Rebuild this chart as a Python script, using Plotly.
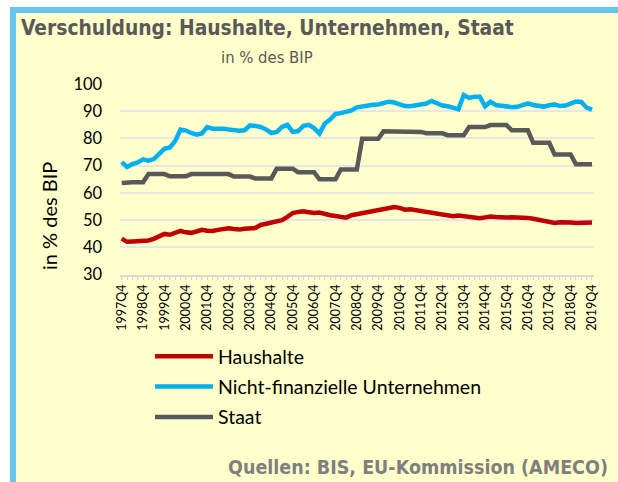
import plotly.graph_objects as go

W, H = 618, 482

# ---- data (quarterly, 1997Q4 .. 2019Q4) ----
quarters = [f"{y}Q{q}" for y in range(1997, 2020) for q in range(1, 5)]
quarters = quarters[quarters.index("1997Q4"):]

haushalte = [
    43.2, 42.0, 42.1, 42.2, 42.3, 42.5, 43.1, 44.0, 44.9, 44.6,
    45.3, 46.0, 45.5, 45.3, 45.8, 46.4, 46.1, 46.0, 46.4, 46.6,
    47.0, 46.7, 46.5, 46.8, 47.0, 47.1, 48.2, 48.6, 49.0, 49.5,
    50.0, 51.2, 52.6, 53.0, 53.2, 52.9, 52.6, 52.8, 52.1, 51.8,
    51.5, 51.2, 50.9, 51.8, 52.2, 52.4, 53.0, 53.5, 53.8, 54.2,
    54.6, 54.8, 54.5, 53.8, 54.0, 53.7, 53.2, 52.8, 52.6, 52.3,
    52.0, 51.6, 51.4, 51.7, 51.4, 50.9, 50.6, 50.7, 51.0, 51.3,
    51.1, 50.8, 50.9, 51.0, 51.0, 50.9, 50.8, 50.5, 50.1, 49.7,
    49.4, 48.9, 49.2, 49.3, 49.1, 48.9, 48.9, 49.0, 49.1,
]

unternehmen = [
    71.3, 69.5, 70.6, 71.2, 72.3, 71.8, 72.4, 74.5, 76.2, 76.7,
    79.0, 83.3, 82.9, 82.0, 81.4, 81.8, 84.2, 83.6, 83.8, 83.6,
    83.3, 82.9, 82.8, 83.0, 84.8, 84.6, 84.2, 83.3, 82.0, 82.4,
    84.2, 85.0, 82.4, 82.7, 84.6, 85.0, 83.8, 81.8, 85.5, 86.9,
    89.0, 89.3, 89.6, 90.3, 91.4, 91.8, 92.1, 92.4, 92.5, 93.2,
    93.5, 93.2, 92.5, 91.9, 91.8, 92.2, 92.6, 92.8, 93.8, 93.0,
    92.1, 91.8, 91.2, 90.7, 96.0, 94.9, 95.3, 95.3, 91.8, 93.5,
    92.3, 91.9, 91.7, 91.5, 91.6, 92.3, 92.9, 92.3, 91.9, 91.7,
    92.2, 92.5, 91.9, 92.1, 92.8, 93.6, 93.4, 91.3, 90.6,
]

staat = [
    63.6, 63.9, 63.9, 63.9, 63.9, 66.9, 66.9, 66.9, 66.9, 66.1,
    66.1, 66.1, 66.1, 66.9, 66.9, 66.9, 66.9, 66.9, 66.9, 66.9,
    66.9, 66.0, 66.0, 66.0, 66.0, 65.3, 65.3, 65.3, 65.3, 68.9,
    68.9, 68.9, 68.9, 67.6, 67.6, 67.6, 67.6, 65.0, 65.0, 65.0,
    65.0, 68.6, 68.6, 68.6, 68.6, 79.9, 79.9, 79.9, 79.9, 82.6,
    82.6, 82.6, 82.6, 82.4, 82.4, 82.4, 82.4, 81.9, 81.9, 81.9,
    81.9, 81.2, 81.2, 81.2, 81.2, 84.2, 84.2, 84.2, 84.2, 84.9,
    84.9, 84.9, 84.9, 83.0, 83.0, 83.0, 83.0, 78.4, 78.4, 78.4,
    78.4, 74.1, 74.1, 74.1, 74.1, 70.5, 70.5, 70.5, 70.5,
]

series_names = ["Haushalte", "Nicht-finanzielle Unternehmen", "Staat"]
series_colors = ["#c00000", "#00b0f0", "#595959"]
y_ticks = [30, 40, 50, 60, 70, 80, 90, 100]
x_ticktext = [q if q.endswith("Q4") else "" for q in quarters]

title_text = "Verschuldung: Haushalte, Unternehmen, Staat"
subtitle_text = "in % des BIP"
ytitle_text = "in % des BIP"
source_text = "Quellen: BIS, EU-Kommission (AMECO)"

# ---- figure ----
fig = go.Figure()
for i, (name, vals, col) in enumerate(zip(series_names, [haushalte, unternehmen, staat], series_colors)):
    fig.add_trace(go.Scatter(
        x=quarters, y=vals, mode="lines", name=name,
        line=dict(color=col, width=4.5),
        legendgroup=f"g{i}",
    ))

def px_x(p):
    return p / W

def px_y(p):
    return 1 - p / H

n = len(quarters) - 1
x_left, x_right = 121.7, 592.0
step = (x_right - x_left) / n
pad = 0.3
y_top, y_bot = 84.0, 274.5

title_font = "DejaVu Sans Condensed, sans-serif"

fig.update_layout(
    width=W, height=H,
    margin=dict(l=0, r=0, t=0, b=0),
    paper_bgcolor="white",
    plot_bgcolor="rgba(0,0,0,0)",
    font=dict(family="Lato, sans-serif", color="#000000"),
    showlegend=True,
    legend=dict(
        x=px_x(150), xanchor="left", y=px_y(337), yanchor="top",
        font=dict(family="Lato, sans-serif", size=19.5, color="#000000"),
        bgcolor="rgba(0,0,0,0)", borderwidth=0,
        traceorder="grouped", tracegroupgap=2, itemwidth=58,
    ),
    xaxis=dict(
        type="category",
        domain=[px_x(x_left - pad * step), px_x(x_right + pad * step)],
        range=[-pad, n + pad],
        tickmode="array", tickvals=quarters, ticktext=x_ticktext,
        tickangle=-90, tickfont=dict(family="Lato, sans-serif", size=12.5, color="#000000"),
        ticks="outside", ticklen=3, tickwidth=1, tickcolor="#d0d0d0",
        showline=True, linecolor="#d9d9d9", linewidth=2,
        showgrid=False, zeroline=False, automargin=False,
    ),
    yaxis=dict(
        domain=[px_y(y_bot), px_y(y_top)],
        range=[30, 100],
        tickmode="array", tickvals=y_ticks,
        tickfont=dict(family="Lato, sans-serif", size=16.5, color="#000000"),
        ticks="", ticklabelstandoff=17,
        showgrid=True, gridcolor="#e6e6e6", gridwidth=1.5,
        showline=False, zeroline=False, automargin=False,
    ),
    shapes=[dict(
        type="rect", xref="paper", yref="paper", layer="below",
        x0=px_x(13), x1=1.05, y0=px_y(10), y1=-0.05,
        fillcolor="#ffffcc", line=dict(color="#66c4ee", width=6),
    )],
    annotations=[
        dict(text=f"<b>{title_text}</b>", xref="paper", yref="paper",
             x=px_x(267), y=px_y(28), xanchor="center", yanchor="middle",
             showarrow=False,
             font=dict(family=title_font, size=20.8, color="#595959")),
        dict(text=subtitle_text, xref="paper", yref="paper",
             x=px_x(267), y=px_y(57), xanchor="center", yanchor="middle",
             showarrow=False,
             font=dict(family=title_font, size=16.5, color="#595959")),
        dict(text=ytitle_text, xref="paper", yref="paper",
             x=px_x(49), y=px_y(216), xanchor="center", yanchor="middle",
             textangle=-90, showarrow=False,
             font=dict(family="Lato, sans-serif", size=20, color="#000000")),
        dict(text=f"<b>{source_text}</b>", xref="paper", yref="paper",
             x=px_x(610), y=px_y(467), xanchor="right", yanchor="middle",
             showarrow=False,
             font=dict(family=title_font, size=19.5, color="#7f7f7f")),
    ],
)

fig.write_html("out.html", config={"displayModeBar": False},
               post_script="document.body.style.margin='0';")
